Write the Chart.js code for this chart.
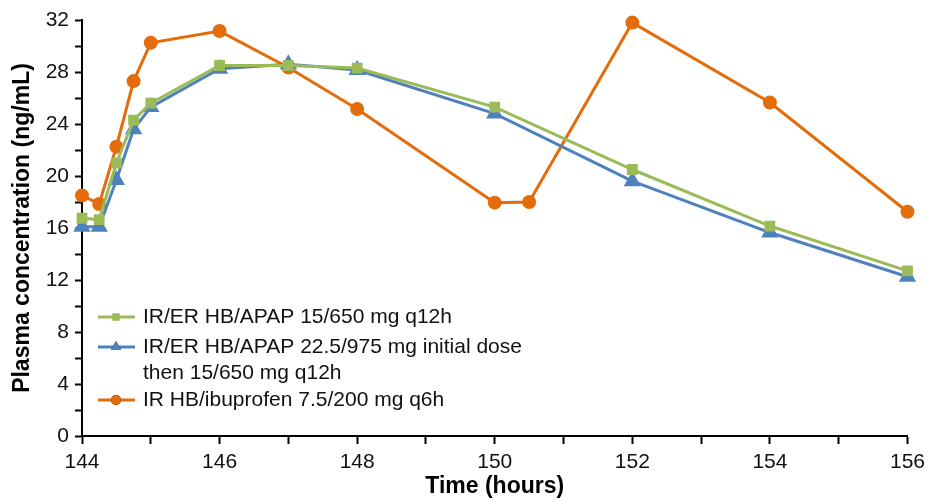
<!DOCTYPE html>
<html>
<head>
<meta charset="utf-8">
<script src="https://cdn.jsdelivr.net/npm/chart.js@4"></script>
<style>
  html, body { margin: 0; padding: 0; background: #fff; }
  #wrap { width: 931px; height: 500px; position: relative; }
</style>
</head>
<body>
<div id="wrap"><canvas id="pk-chart"></canvas></div>
<script>
// hours after first dose
const hoursApap = [144, 144.25, 144.5, 144.75, 145, 146, 147, 148, 150, 152, 154, 156];
const hoursIbu = [144, 144.25, 144.5, 144.75, 145, 146, 147, 148, 150, 150.5, 152, 154, 156];

// plasma concentration, ng/mL
const apap15 = [16.75, 16.65, 21.0, 24.3, 25.6, 28.5, 28.5, 28.3, 25.3, 20.5, 16.15, 12.7];
const apap22 = [16.1, 16.1, 19.7, 23.6, 25.3, 28.25, 28.6, 28.15, 24.8, 19.6, 15.65, 12.25];
const ibuprofen = [18.5, 17.85, 22.25, 27.3, 30.25, 31.15, 28.35, 25.15, 17.95, 18.0, 31.8, 25.65, 17.25];

const seriesLabels = [
  ["IR/ER HB/APAP 15/650 mg q12h"],
  ["IR/ER HB/APAP 22.5/975 mg initial dose", "then 15/650 mg q12h"],
  ["IR HB/ibuprofen 7.5/200 mg q6h"]
];

const GREEN = "#9bbb59";
const BLUE = "#4f81bd";
const ORANGE = "#e46c0a";
const FONT = "'Liberation Sans', Arial, sans-serif";

function toPoints(xs, ys) {
  return xs.map((x, i) => ({ x: x, y: ys[i] }));
}

// legend drawn inside the plot, bottom left
const insideLegend = {
  id: "insideLegend",
  afterDraw(chart) {
    const ctx = chart.ctx;
    const rows = [317, 347, 400];
    ctx.save();
    ctx.font = "21px " + FONT;
    ctx.textBaseline = "middle";
    chart.data.datasets.forEach((ds, i) => {
      const y = rows[i];
      ctx.strokeStyle = ds.borderColor;
      ctx.lineWidth = 3;
      ctx.beginPath();
      ctx.moveTo(98, y);
      ctx.lineTo(135, y);
      ctx.stroke();
      Chart.helpers.drawPoint(ctx, {
        pointStyle: ds.pointStyle,
        radius: ds.pointStyle === "triangle" ? 6 : 5,
        rotation: 0,
        borderWidth: 0
      }, 116, y);
      ctx.fillStyle = ds.borderColor;
      ctx.fill();
      ctx.fillStyle = "#111";
      seriesLabels[i].forEach((line, k) => {
        ctx.fillText(line, 143, y + k * 26);
      });
    });
    ctx.restore();
  }
};

new Chart(document.getElementById("pk-chart"), {
  type: "line",
  data: {
    datasets: [
      {
        label: seriesLabels[0].join(" "),
        data: toPoints(hoursApap, apap15),
        borderColor: GREEN,
        backgroundColor: GREEN,
        pointStyle: "rect",
        pointRadius: 5.5,
        borderWidth: 3,
        tension: 0
      },
      {
        label: seriesLabels[1].join(" "),
        data: toPoints(hoursApap, apap22),
        borderColor: BLUE,
        backgroundColor: BLUE,
        pointStyle: "triangle",
        pointRadius: 7,
        borderWidth: 3,
        tension: 0
      },
      {
        label: seriesLabels[2].join(" "),
        data: toPoints(hoursIbu, ibuprofen),
        borderColor: ORANGE,
        backgroundColor: ORANGE,
        pointStyle: "circle",
        pointRadius: 5.5,
        borderWidth: 3,
        tension: 0
      }
    ]
  },
  options: {
    responsive: true,
    maintainAspectRatio: false,
    animation: false,
    clip: false,
    layout: { padding: { top: 20, right: 21, left: 0, bottom: 0 } },
    plugins: {
      legend: { display: false },
      tooltip: { enabled: false }
    },
    scales: {
      x: {
        type: "linear",
        min: 144,
        max: 156,
        afterFit: (s) => { s.height = 64; },
        ticks: {
          stepSize: 1,
          color: "#111",
          font: { family: FONT, size: 21 },
          padding: 6,
          maxRotation: 0,
          autoSkip: false,
          callback: (v) => (v % 2 === 0 ? v : "")
        },
        grid: {
          drawOnChartArea: false,
          color: "#000",
          tickLength: 8,
          tickWidth: 2
        },
        border: { color: "#000", width: 2 },
        title: {
          display: true,
          text: "Time (hours)",
          color: "#000",
          font: { family: FONT, size: 23, weight: "bold" },
          padding: { top: 0, bottom: 0 }
        }
      },
      y: {
        min: 0,
        max: 32,
        afterFit: (s) => { s.width = 82; },
        ticks: {
          stepSize: 2,
          color: "#111",
          font: { family: FONT, size: 21 },
          padding: 6,
          autoSkip: false,
          callback: (v) => (v % 4 === 0 ? v : "")
        },
        grid: {
          drawOnChartArea: false,
          color: "#000",
          tickLength: 7,
          tickWidth: 2
        },
        border: { color: "#000", width: 2 },
        title: {
          display: true,
          text: "Plasma concentration (ng/mL)",
          color: "#000",
          font: { family: FONT, size: 23, weight: "bold" },
          padding: { top: 9, bottom: 0 }
        }
      }
    }
  },
  plugins: [insideLegend]
});
</script>
</body>
</html>
